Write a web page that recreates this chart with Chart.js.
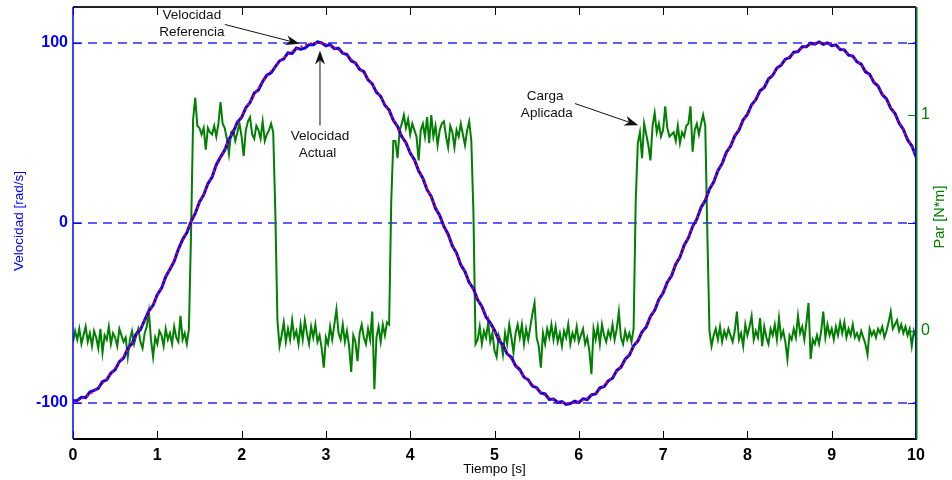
<!DOCTYPE html>
<html><head><meta charset="utf-8">
<script src="https://cdn.jsdelivr.net/npm/chart.js@4.4.1/dist/chart.umd.min.js"></script>
<style>html,body{margin:0;padding:0;background:#fff;}#wrap{width:952px;height:480px;}</style>
</head><body><div id="wrap"><canvas id="c" width="952" height="480"></canvas></div>
<script>
const timeTicks = [0,1,2,3,4,5,6,7,8,9,10];
const velTicks = [-100,0,100];
const torqueTicks = [0,1];

const velStep = 0.05;
const velRef = [
-99.5,-98.8,-97.8,-96.6,-95.1,-93.3,-91.3,-89.0,-86.5,-83.8,
-80.8,-77.6,-74.1,-70.5,-66.7,-62.7,-58.5,-54.2,-49.7,-45.1,
-40.3,-35.5,-30.5,-25.5,-20.4,-15.2,-10.0,-4.7,0.5,5.8,
11.0,16.2,21.4,26.5,31.5,36.4,41.3,46.0,50.6,55.1,
59.4,63.5,67.5,71.3,74.9,78.2,81.4,84.3,87.0,89.5,
91.7,93.7,95.4,96.8,98.0,98.9,99.6,99.9,100.0,99.8,
99.3,98.6,97.6,96.3,94.7,92.9,90.9,88.6,86.0,83.2,
80.2,76.9,73.5,69.8,65.9,61.9,57.7,53.3,48.8,44.1,
39.4,34.5,29.5,24.5,19.3,14.1,8.9,3.7,-1.6,-6.8,
-12.0,-17.2,-22.4,-27.5,-32.5,-37.4,-42.2,-46.9,-51.5,-55.9,
-60.2,-64.3,-68.2,-72.0,-75.5,-78.9,-82.0,-84.9,-87.6,-89.9,
-92.1,-94.0,-95.7,-97.1,-98.2,-99.1,-99.7,-100.0,-100.0,-99.7,
-99.2,-98.4,-97.3,-96.0,-94.4,-92.5,-90.4,-88.1,-85.5,-82.6,
-79.5,-76.2,-72.7,-69.0,-65.2,-61.1,-56.9,-52.4,-47.9,-43.2,
-38.4,-33.5,-28.5,-23.4,-18.3,-13.1,-7.9,-2.6,2.6,7.9,
13.1,18.3,23.4,28.5,33.5,38.4,43.2,47.9,52.4,56.8,
61.0,65.1,69.0,72.7,76.2,79.5,82.6,85.4,88.1,90.4,
92.5,94.4,96.0,97.3,98.4,99.2,99.7,100.0,100.0,99.6,
99.1,98.2,97.1,95.7,94.0,92.1,90.0,87.6,84.9,82.0,
78.9,75.6,72.0,68.3,64.3,60.2,56.0,51.5,47.0,42.3,
37.4];

const velAct = [
-98.7,-98.6,-96.8,-97.0,-93.9,-93.0,-91.8,-88.1,-87.1,-83.4,
-81.5,-77.0,-75.0,-69.7,-67.0,-61.6,-59.3,-54.0,-48.8,-45.7,
-39.8,-36.3,-29.8,-25.7,-21.3,-14.6,-9.2,-5.4,0.8,5.3,
11.7,15.6,21.8,25.5,32.4,36.6,40.5,46.6,50.2,56.1,
58.6,64.0,66.9,72.2,73.9,78.6,82.1,83.4,86.8,90.1,
91.2,94.5,94.2,97.2,96.5,97.1,99.0,99.0,100.6,100.1,
98.4,99.1,96.9,97.1,94.3,93.6,90.1,88.9,85.4,84.1,
79.5,77.3,72.6,70.4,65.4,62.7,57.1,53.6,48.0,44.6,
38.8,35.2,29.0,24.9,18.5,14.7,8.2,4.2,-1.9,-6.2,
-12.7,-16.7,-23.2,-27.1,-33.1,-36.5,-42.7,-46.3,-52.3,-55.5,
-59.6,-65.1,-67.7,-72.7,-74.6,-79.3,-81.4,-85.7,-87.1,-90.6,
-91.5,-94.5,-94.9,-98.0,-97.8,-99.7,-99.2,-100.8,-100.3,-99.0,
-99.8,-97.7,-98.1,-95.5,-95.0,-91.6,-90.9,-87.7,-86.2,-82.0,
-80.1,-75.7,-73.4,-68.2,-65.6,-60.5,-57.8,-51.9,-48.5,-42.5,
-38.9,-32.9,-29.3,-22.9,-19.0,-12.3,-8.3,-2.0,2.1,8.6,
12.5,18.8,22.7,29.1,33.0,39.2,42.6,48.3,51.6,57.3,
60.3,65.7,68.5,73.5,75.3,80.0,82.0,86.1,87.7,91.0,
91.8,94.9,95.2,97.9,97.9,99.9,99.3,100.6,99.3,100.1,
98.5,99.0,96.4,96.2,93.2,92.7,89.5,88.3,84.0,82.6,
78.1,76.1,71.3,68.9,63.8,61.0,55.4,52.0,46.2,42.9,
36.8];

const torqueStep = 0.025;
const torque = [
-0.05,0.0,-0.04,0.01,-0.06,-0.02,0.02,-0.05,-0.01,-0.07,0.0,-0.03,-0.08,0.01,-0.1,-0.02,-0.04,0.02,-0.06,-0.01,-0.03,-0.07,0.01,-0.02,-0.05,-0.03,-0.12,-0.04,0.0,-0.06,-0.02,0.01,-0.05,-0.08,-0.01,0.02,0.09,-0.04,-0.12,-0.03,-0.06,0.0,-0.02,-0.07,0.01,-0.04,-0.01,-0.06,0.02,-0.03,-0.05,0.07,-0.04,-0.01,-0.06,0.01,
0.45,0.98,1.08,
0.95,0.94,0.91,0.94,0.84,0.94,0.92,0.91,0.95,0.90,0.96,1.06,0.96,0.94,0.89,0.82,0.92,0.93,0.88,0.92,0.96,0.90,0.81,0.93,0.97,0.99,0.91,0.89,0.95,0.93,0.89,0.97,0.88,0.91,0.93,0.96,
0.92,0.55,0.05,
-0.07,-0.02,0.04,-0.05,0.01,-0.04,0.05,-0.03,0.0,-0.06,0.03,-0.04,0.05,-0.01,-0.06,0.02,-0.03,0.03,-0.05,-0.02,-0.08,-0.17,-0.03,-0.06,0.02,-0.04,0.03,0.1,-0.01,-0.04,0.03,-0.05,0.0,-0.07,-0.19,-0.02,-0.05,-0.14,-0.01,0.03,-0.03,-0.06,0.01,-0.04,0.09,-0.27,-0.03,0.02,-0.05,0.03,-0.02,0.04,
0.03,0.6,0.88,
0.88,0.80,0.93,0.96,1.0,0.94,0.98,0.91,0.96,0.93,0.90,0.79,0.93,0.96,0.90,0.99,0.87,1.0,0.90,0.95,0.86,0.93,0.96,0.97,0.90,0.85,0.95,0.92,0.85,0.93,0.90,0.96,0.91,0.86,0.93,0.97,0.88,
0.55,-0.06,
-0.04,0.02,-0.06,0.0,-0.03,0.04,-0.05,-0.01,-0.09,-0.12,-0.02,-0.05,-0.11,-0.01,-0.06,0.03,-0.03,-0.1,-0.01,0.03,-0.03,0.03,-0.06,0.01,-0.04,0.02,0.08,0.13,-0.03,-0.07,-0.17,-0.01,-0.06,0.01,-0.03,0.03,-0.04,0.02,-0.05,-0.01,-0.07,0.0,-0.03,0.03,-0.06,-0.01,-0.04,0.02,-0.05,-0.02,0.01,-0.06,-0.03,-0.09,-0.2,0.01,-0.04,0.02,-0.06,0.03,-0.02,-0.05,0.0,-0.03,0.03,-0.04,0.01,0.09,-0.03,-0.06,0.0,-0.04,-0.01,-0.05,0.01,
0.6,0.87,
0.92,0.80,0.96,0.91,0.86,0.79,0.95,1.01,0.92,0.96,0.90,0.93,1.04,0.94,0.90,0.91,0.92,0.88,0.95,0.87,0.92,0.90,0.95,0.96,1.04,0.83,0.93,0.96,0.91,0.96,1.0,0.95,
0.45,0.0,
-0.07,-0.02,0.01,-0.04,0.02,-0.05,0.0,-0.03,0.01,-0.02,-0.05,0.0,0.09,-0.04,-0.01,-0.07,0.03,-0.02,0.02,0.07,-0.04,0.0,-0.03,0.06,-0.07,0.02,-0.03,-0.06,0.01,-0.02,0.03,-0.04,0.06,-0.03,0.0,-0.05,-0.13,-0.02,-0.04,0.01,-0.03,0.07,-0.01,0.02,-0.04,0.04,0.13,-0.13,-0.04,-0.06,-0.02,-0.06,0.0,0.09,-0.03,0.03,-0.02,0.01,-0.04,0.02,-0.02,0.04,-0.01,0.04,-0.03,0.01,-0.02,0.03,-0.03,-0.01,-0.04,0.0,-0.03,-0.06,-0.11,0.01,-0.02,0.0,-0.03,0.01,-0.01,0.02,-0.03,0.0,0.04,0.09,0.01,0.03,0.05,0.0,0.03,-0.01,0.02,-0.02,0.01,-0.07,0.0,-0.03
];

const FONT = "'Liberation Sans', Arial, Helvetica, sans-serif";
const BLUE = '#0000ff', GRID = '#2a2aff', GREEN = '#007f00', RED = '#ff0000';

function arrow(ctx, x1, y1, x2, y2) {
  const a = Math.atan2(y2 - y1, x2 - x1), L = 14, W = 5, c = Math.cos(a), s = Math.sin(a);
  ctx.beginPath(); ctx.moveTo(x1, y1); ctx.lineTo(x2 - L * 0.7 * c, y2 - L * 0.7 * s); ctx.stroke();
  ctx.beginPath();
  ctx.moveTo(x2, y2);
  ctx.lineTo(x2 - L * c + W * s, y2 - L * s - W * c);
  ctx.lineTo(x2 - L * 0.7 * c, y2 - L * 0.7 * s);
  ctx.lineTo(x2 - L * c - W * s, y2 - L * s + W * c);
  ctx.closePath(); ctx.fill();
}

const overlay = {
  id: 'overlay',
  beforeDatasetsDraw(chart) {
    const { ctx, chartArea: a, scales } = chart;
    ctx.save();
    ctx.strokeStyle = GRID; ctx.lineWidth = 1.5; ctx.setLineDash([9, 6]);
    velTicks.forEach(v => {
      const y = Math.round(scales.yL.getPixelForValue(v));
      ctx.beginPath(); ctx.moveTo(a.left, y); ctx.lineTo(a.right, y); ctx.stroke();
    });
    ctx.restore();
  },
  afterDatasetsDraw(chart) {
    const { ctx, chartArea: a, scales } = chart;
    const X = scales.x, YL = scales.yL, YR = scales.yR;
    ctx.save();
    ctx.setLineDash([]);
    const T = 8;
    ctx.strokeStyle = '#000'; ctx.lineWidth = 1;
    timeTicks.forEach(t => {
      const x = Math.round(X.getPixelForValue(t)) + 0.5;
      ctx.beginPath(); ctx.moveTo(x, a.bottom); ctx.lineTo(x, a.bottom - T); ctx.stroke();
      ctx.beginPath(); ctx.moveTo(x, a.top); ctx.lineTo(x, a.top + T); ctx.stroke();
    });
    ctx.strokeStyle = BLUE;
    velTicks.forEach(v => {
      const y = Math.round(YL.getPixelForValue(v)) + 0.5;
      ctx.beginPath(); ctx.moveTo(a.left, y); ctx.lineTo(a.left + T, y); ctx.stroke();
      ctx.beginPath(); ctx.moveTo(a.right, y); ctx.lineTo(a.right - T, y); ctx.stroke();
    });
    ctx.strokeStyle = GREEN;
    torqueTicks.forEach(v => {
      const y = Math.round(YR.getPixelForValue(v)) + 0.5;
      ctx.beginPath(); ctx.moveTo(a.right, y); ctx.lineTo(a.right - T, y); ctx.stroke();
    });
    ctx.lineWidth = 2; ctx.strokeStyle = '#222';
    ctx.beginPath(); ctx.moveTo(a.left, a.top); ctx.lineTo(a.right, a.top); ctx.stroke();
    ctx.strokeStyle = '#000';
    ctx.beginPath(); ctx.moveTo(a.left, a.bottom); ctx.lineTo(a.right + 1, a.bottom); ctx.stroke();
    ctx.lineWidth = 1.5; ctx.strokeStyle = BLUE;
    ctx.beginPath(); ctx.moveTo(a.left, a.top); ctx.lineTo(a.left, a.bottom); ctx.stroke();
    ctx.lineWidth = 1; ctx.strokeStyle = BLUE;
    ctx.beginPath(); ctx.moveTo(a.right - 0.5, a.top); ctx.lineTo(a.right - 0.5, a.bottom); ctx.stroke();
    ctx.lineWidth = 1.5; ctx.strokeStyle = GREEN;
    ctx.beginPath(); ctx.moveTo(a.right + 0.75, a.top); ctx.lineTo(a.right + 0.75, a.bottom); ctx.stroke();

    ctx.font = '13.5px ' + FONT; ctx.textAlign = 'center'; ctx.textBaseline = 'middle';
    ctx.fillStyle = '#000';
    ctx.fillText('Tiempo [s]', (a.left + a.right) / 2, 469);
    ctx.save(); ctx.translate(19, 221); ctx.rotate(-Math.PI / 2);
    ctx.fillStyle = BLUE; ctx.fillText('Velocidad [rad/s]', 0, 0); ctx.restore();
    ctx.font = '14.5px ' + FONT;
    ctx.save(); ctx.translate(940, 217); ctx.rotate(-Math.PI / 2);
    ctx.fillStyle = GREEN; ctx.fillText('Par [N*m]', 0, 0); ctx.restore();

    ctx.fillStyle = '#111'; ctx.strokeStyle = '#111'; ctx.lineWidth = 1;
    ctx.font = '13.5px ' + FONT;
    ctx.fillText('Velocidad', X.getPixelForValue(1.41), YL.getPixelForValue(115.3));
    ctx.fillText('Referencia', X.getPixelForValue(1.41), YL.getPixelForValue(105.8));
    arrow(ctx, X.getPixelForValue(1.80), YL.getPixelForValue(110.3), X.getPixelForValue(2.69), YL.getPixelForValue(99.6));
    ctx.fillText('Velocidad', X.getPixelForValue(2.93), YL.getPixelForValue(48.2));
    ctx.fillText('Actual', X.getPixelForValue(2.90), YL.getPixelForValue(39.0));
    arrow(ctx, X.getPixelForValue(2.93), YL.getPixelForValue(54.2), X.getPixelForValue(2.93), YL.getPixelForValue(95.8));
    ctx.fillText('Carga', X.getPixelForValue(5.60), YR.getPixelForValue(1.088));
    ctx.fillText('Aplicada', X.getPixelForValue(5.62), YR.getPixelForValue(1.009));
    arrow(ctx, X.getPixelForValue(5.955), YR.getPixelForValue(1.053), X.getPixelForValue(6.706), YR.getPixelForValue(0.952));
    ctx.restore();
  }
};

const refPts = velRef.map((v, i) => ({ x: +(i * velStep).toFixed(3), y: v }));
const actPts = velAct.map((v, i) => ({ x: +(i * velStep).toFixed(3), y: v }));
const torquePts = torque.map((v, i) => ({ x: +(i * torqueStep).toFixed(3), y: v }));

const noPad = s => { s.paddingTop = 0; s.paddingBottom = 0; s.paddingLeft = 0; s.paddingRight = 0; };

new Chart(document.getElementById('c'), {
  type: 'line',
  data: {
    datasets: [
      { label: 'Velocidad Referencia', data: refPts, yAxisID: 'yL', borderColor: RED, borderWidth: 2, borderDash: [2, 3], pointRadius: 0, order: 0 },
      { label: 'Velocidad Actual', data: actPts, yAxisID: 'yL', borderColor: BLUE, borderWidth: 3, pointRadius: 0, order: 1 },
      { label: 'Par', data: torquePts, yAxisID: 'yR', borderColor: GREEN, borderWidth: 2, pointRadius: 0, order: 2 }
    ]
  },
  options: {
    responsive: false, animation: false, devicePixelRatio: 1,
    layout: { padding: { top: 7, left: 0, right: 0, bottom: 0 } },
    plugins: { legend: { display: false }, tooltip: { enabled: false } },
    elements: { line: { tension: 0 } },
    scales: {
      x: {
        type: 'linear', position: 'bottom', min: 0, max: 10,
        afterBuildTicks: s => { s.ticks = timeTicks.map(v => ({ value: v })); },
        afterFit: s => { s.height = 41; noPad(s); },
        grid: { display: false, drawTicks: false }, border: { display: false },
        ticks: { color: '#000', font: { family: FONT, size: 16, weight: 'bold' }, padding: 7, maxRotation: 0, autoSkip: false }
      },
      yL: {
        type: 'linear', position: 'left', min: -120, max: 120,
        afterBuildTicks: s => { s.ticks = velTicks.map(v => ({ value: v })); },
        afterFit: s => { s.width = 73; noPad(s); },
        grid: { display: false, drawTicks: false }, border: { display: false },
        ticks: { color: BLUE, font: { family: FONT, size: 16, weight: 'bold' }, padding: 5 }
      },
      yR: {
        type: 'linear', position: 'right', min: -0.5, max: 1.5,
        afterBuildTicks: s => { s.ticks = torqueTicks.map(v => ({ value: v })); },
        afterFit: s => { s.width = 36; noPad(s); },
        grid: { display: false, drawTicks: false }, border: { display: false },
        ticks: { color: GREEN, font: { family: FONT, size: 16 }, padding: 5 }
      }
    }
  },
  plugins: [overlay]
});
</script>
</body></html>
